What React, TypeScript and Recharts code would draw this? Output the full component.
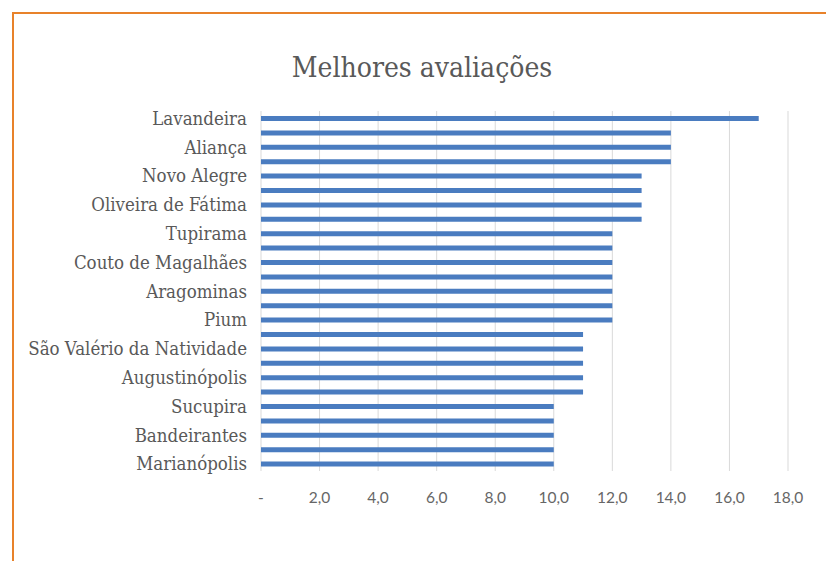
import { Bar, BarChart, CartesianGrid, XAxis, YAxis } from "recharts";

// only every other city is labelled in the source, the rest are unreadable
const cities = [
  "Lavandeira", "", "Aliança", "", "Novo Alegre", "", "Oliveira de Fátima", "",
  "Tupirama", "", "Couto de Magalhães", "", "Aragominas", "", "Pium", "",
  "São Valério da Natividade", "", "Augustinópolis", "", "Sucupira", "",
  "Bandeirantes", "", "Marianópolis"
];

const scores = [
  17, 14, 14, 14, 13, 13, 13, 13, 12, 12, 12, 12, 12, 12, 12,
  11, 11, 11, 11, 11, 10, 10, 10, 10, 10
];

const xTicks = [0, 2, 4, 6, 8, 10, 12, 14, 16, 18];

const data = cities.map((city, i) => ({ key: i, city, score: scores[i] }));

const fmt = (v: number) => (v === 0 ? "-" : v.toFixed(1).replace(".", ","));

const serif = "'DejaVu Serif Condensed', 'DejaVu Serif'";

export default function App() {
  return (
    <div
      style={{
        position: "absolute",
        left: 0,
        top: 0,
        width: 826,
        height: 561,
        overflow: "hidden",
        background: "#fff"
      }}
    >
      <div
        style={{
          position: "absolute",
          left: 12,
          top: 12,
          width: 1000,
          height: 800,
          border: "2px solid #e8822a"
        }}
      />
      <div
        style={{
          position: "absolute",
          left: 0,
          width: 844,
          top: 50,
          textAlign: "center",
          fontFamily: serif,
          fontStretch: "condensed",
          fontSize: 28,
          lineHeight: "36px",
          color: "#595959"
        }}
      >
        Melhores avaliações
      </div>
      <BarChart
        width={818}
        height={553}
        data={data}
        layout="vertical"
        margin={{ top: 103, right: 38, left: 0, bottom: 50 }}
        style={{ position: "absolute", left: 8, top: 8, fontStretch: "condensed" }}
      >
        <CartesianGrid stroke="#d9d9d9" horizontal={false} />
        <XAxis
          type="number"
          domain={[0, 18]}
          ticks={xTicks}
          tickFormatter={fmt}
          axisLine={false}
          tickLine={false}
          tickSize={0}
          tickMargin={21}
          height={40}
          tick={{ fill: "#666", fontSize: 15.5, fontFamily: "Lato, sans-serif", fontStretch: "normal" }}
        />
        <YAxis
          type="category"
          dataKey="key"
          width={253}
          interval={0}
          tickFormatter={(v: number) => cities[v]}
          axisLine={false}
          tickLine={false}
          tickSize={0}
          tickMargin={14}
          tick={{ fill: "#595959", fontSize: 18.5, fontFamily: serif }}
        />
        <Bar dataKey="score" fill="#4a7cc0" barSize={5} isAnimationActive={false} />
      </BarChart>
    </div>
  );
}
